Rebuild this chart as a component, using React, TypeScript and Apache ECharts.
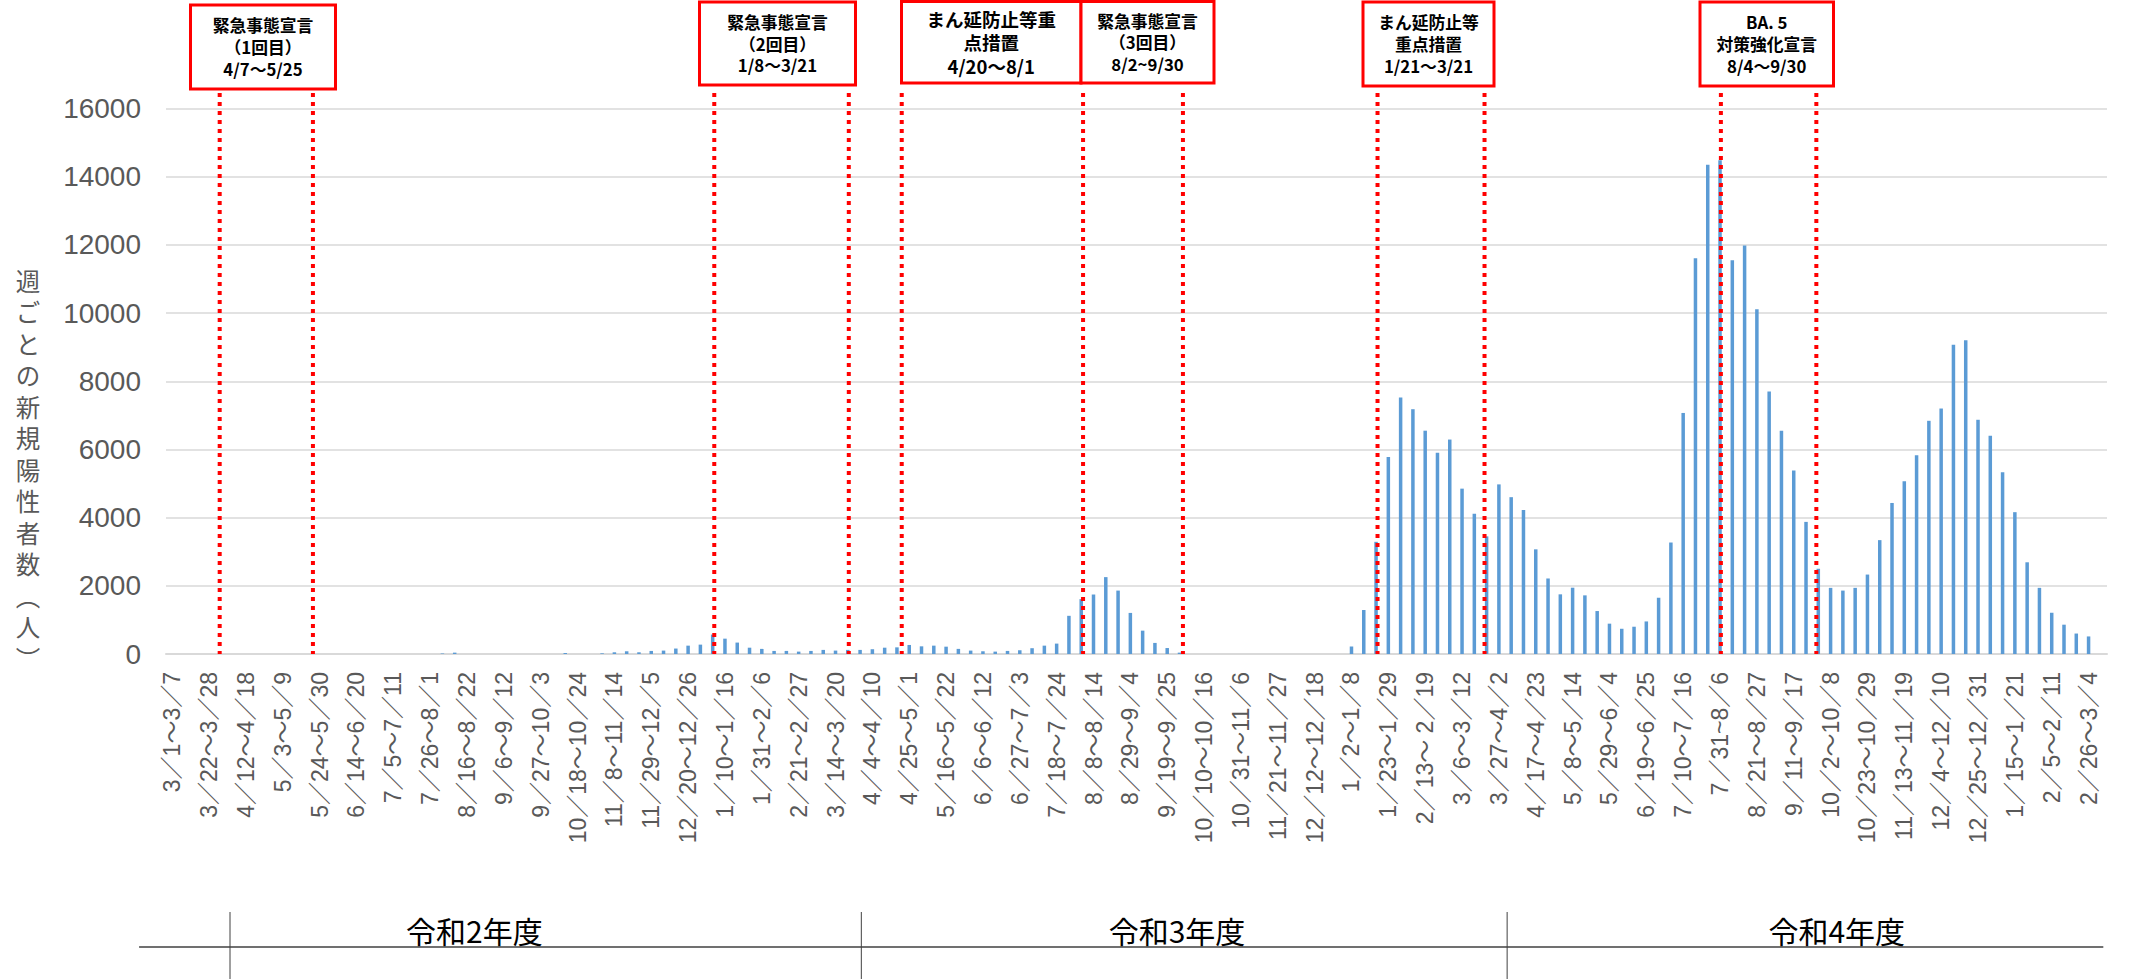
import React, { useEffect, useRef } from "react";
import * as echarts from "echarts";

// ---- data ----
const WEEK_COUNT = 158; // weekly categories starting Sun 2020-03-01 (last one is empty)

const tickLabels = [
  "3／1～3／7", "3／22～3／28", "4／12～4／18", "5／3～5／9", "5／24～5／30", "6／14～6／20",
  "7／5～7／11", "7／26～8／1", "8／16～8／22", "9／6～9／12", "9／27～10／3", "10／18～10／24",
  "11／8～11／14", "11／29～12／5", "12／20～12／26", "1／10～1／16", "1／31～2／6", "2／21～2／27",
  "3／14～3／20", "4／4～4／10", "4／25～5／1", "5／16～5／22", "6／6～6／12", "6／27～7／3",
  "7／18～7／24", "8／8～8／14", "8／29～9／4", "9／19～9／25", "10／10～10／16", "10／31～11／6",
  "11／21～11／27", "12／12～12／18", "1／2～1／8", "1／23～1／29", "2／13～ 2／19", "3／6～3／12",
  "3／27～4／2", "4／17～4／23", "5／8～5／14", "5／29～6／4", "6／19～6／25", "7／10～7／16",
  "7／31~8／6", "8／21～8／27", "9／11～9／17", "10／2～10／8", "10／23～10／29", "11／13～11／19",
  "12／4～12／10", "12／25～12／31", "1／15～1／21", "2／5～2／11", "2／26～3／4",
];

const weeklyCases: (number | null)[] = [
  0, 0, 0, 0, 0, 0, 0, 0, 0, 0,
  0, 0, 0, 0, 0, 0, 0, 0, 0, 0,
  0, 0, 15, 40, 0, 0, 0, 0, 0, 0,
  0, 0, 30, 0, 0, 20, 50, 80, 50, 90,
  100, 160, 245, 275, 570, 450, 335, 185, 150, 90,
  90, 70, 90, 120, 100, 120, 120, 140, 185, 195,
  265, 225, 245, 215, 150, 100, 80, 70, 90, 110,
  170, 245, 305, 1120, 1610, 1745, 2255, 1860, 1205, 685,
  325, 175, 40, 0, 0, 0, 0, 0, 0, 0,
  0, 0, 0, 0, 0, 0, 220, 1290, 3290, 5780,
  7520, 7180, 6550, 5900, 6290, 4850, 4110, 3450, 4975, 4600,
  4220, 3070, 2215, 1750, 1945, 1720, 1260, 890, 740, 800,
  955, 1650, 3270, 7070, 11610, 14350, 14480, 11550, 11980, 10110,
  7700, 6550, 5380, 3875, 2500, 1940, 1860, 1940, 2330, 3340,
  4430, 5070, 5830, 6840, 7200, 9070, 9200, 6870, 6400, 5330,
  4160, 2690, 1940, 1210, 860, 600, 515, null,
];

// category names: week ranges
const categories: string[] = [];
for (let i = 0; i < WEEK_COUNT; i++) {
  const s = new Date(2020, 2, 1 + i * 7);
  const e = new Date(2020, 2, 7 + i * 7);
  categories.push(`${s.getMonth() + 1}／${s.getDate()}～${e.getMonth() + 1}／${e.getDate()}`);
}

// annotation dotted lines (fractional week index)
const periodLines = [3.87, 11.46, 44.13, 55.08, 59.39, 74.15, 82.28, 98.12, 106.83, 126.07, 133.84];

const boxes = [
  { lines: ["緊急事態宣言", "（1回目）", "4/7～5/25"], x: 190.5, y: 5, w: 145, h: 84, size: 16.8, lh: 21.7 },
  { lines: ["緊急事態宣言", "（2回目）", "1/8～3/21"], x: 699.5, y: 2, w: 156, h: 83, size: 16.8, lh: 21.7 },
  { lines: ["まん延防止等重", "点措置", "4/20～8/1"], x: 901.5, y: 1.5, w: 179.5, h: 81.5, size: 18.5, lh: 23.6 },
  { lines: ["緊急事態宣言", "（3回目）", "8/2~9/30"], x: 1081, y: 1.5, w: 133, h: 81.5, size: 16.8, lh: 21.4 },
  { lines: ["まん延防止等", "重点措置", "1/21～3/21"], x: 1363, y: 2, w: 131, h: 84, size: 16.8, lh: 21.6 },
  { lines: ["BA. 5", "対策強化宣言", "8/4～9/30"], x: 1700, y: 2, w: 133.5, h: 84, size: 16.8, lh: 21.6 },
];

const fiscalYears = ["令和2年度", "令和3年度", "令和4年度"];
const fiscalLabelPos = [24.6, 81.8, 135.5];
const fiscalBoundaries = [4.71, 56.1, 108.67];
const bracketSpan = [-2.69, 157.2];

const yTitle = "週ごとの新規陽性者数︵人︶";

const CJK = "'Noto Sans CJK JP', 'Noto Sans', sans-serif";

export default function App() {
  const ref = useRef<HTMLDivElement>(null);

  useEffect(() => {
    const chart = echarts.init(ref.current!, null, { renderer: "svg" });
    chart.setOption({
      animation: false,
      grid: { left: 166, right: 27, top: 108.5, bottom: 325 },
      xAxis: [
        {
          type: "category",
          data: categories,
          boundaryGap: true,
          axisLine: { lineStyle: { color: "#D9D9D9", width: 2 } },
          axisTick: { show: false },
          axisLabel: {
            interval: 2,
            rotate: 90,
            margin: 18,
            color: "#595959",
            fontSize: 23,
            fontFamily: "'Liberation Sans', 'Noto Sans CJK JP', sans-serif",
            formatter: (_v: string, i: number) => tickLabels[i / 3] ?? "",
          },
          splitLine: { show: false },
        },
        { type: "value", min: -0.5, max: WEEK_COUNT - 0.5, show: false },
      ],
      yAxis: {
        type: "value",
        min: 0,
        max: 16000,
        interval: 2000,
        axisLine: { show: false },
        axisTick: { show: false },
        splitLine: { lineStyle: { color: "#D9D9D9", width: 1.5 } },
        axisLabel: {
          margin: 25,
          color: "#595959",
          fontSize: 28,
          fontFamily: "'Liberation Sans Narrow', 'Liberation Sans', sans-serif",
          formatter: (v: number) => String(v),
        },
      },
      series: [
        {
          type: "bar",
          xAxisIndex: 0,
          data: weeklyCases,
          barWidth: 3.5,
          itemStyle: { color: "#5B9BD5" },
        },
      ],
    });

    const px = (v: number) => chart.convertToPixel({ xAxisIndex: 1 }, v) as number;
    const y0 = chart.convertToPixel({ yAxisIndex: 0 }, 0) as number;

    const graphics: any[] = [];
    periodLines.forEach((v) => {
      const x = px(v);
      graphics.push({
        type: "line",
        z: 10,
        shape: { x1: x, y1: 93, x2: x, y2: y0 },
        style: { stroke: "#FF0000", lineWidth: 4, lineDash: [4, 5] },
      });
    });
    boxes.forEach((b) => {
      graphics.push({
        type: "rect",
        z: 11,
        shape: { x: b.x, y: b.y, width: b.w, height: b.h },
        style: { fill: "#FFFFFF", stroke: "#FF0000", lineWidth: 3 },
      });
      const cy = b.y + b.h / 2;
      b.lines.forEach((t, k) => {
        graphics.push({
          type: "text",
          z: 12,
          style: {
            text: t,
            x: b.x + b.w / 2,
            y: cy + (k - 1) * b.lh,
            align: "center",
            verticalAlign: "middle",
            textAlign: "center",
            textVerticalAlign: "middle",
            fontSize: b.size,
            fontWeight: "bold",
            fontFamily: CJK,
            fill: "#000000",
          },
        });
      });
    });
    // y axis title (vertical writing, one glyph per row)
    const chars = Array.from(yTitle);
    const pitch = 31.5;
    chars.forEach((c, k) => {
      graphics.push({
        type: "text",
        z: 10,
        style: {
          text: c,
          x: 28,
          y: 469 + (k - (chars.length - 1) / 2) * pitch,
          align: "center",
          verticalAlign: "middle",
          textAlign: "center",
          textVerticalAlign: "middle",
          fontSize: 24.5,
          fontFamily: CJK,
          fill: "#595959",
        },
      });
    });
    // fiscal year bracket
    graphics.push({
      type: "line",
      z: 10,
      shape: { x1: px(bracketSpan[0]), y1: 947, x2: px(bracketSpan[1]), y2: 947 },
      style: { stroke: "#404040", lineWidth: 1.5 },
    });
    fiscalBoundaries.forEach((v) => {
      const x = px(v);
      graphics.push({
        type: "line",
        z: 10,
        shape: { x1: x, y1: 912, x2: x, y2: 979 },
        style: { stroke: "#404040", lineWidth: 1 },
      });
    });
    fiscalYears.forEach((t, i) => {
      graphics.push({
        type: "text",
        z: 10,
        style: {
          text: t,
          x: px(fiscalLabelPos[i]),
          y: 930,
          align: "center",
          verticalAlign: "middle",
          textAlign: "center",
          textVerticalAlign: "middle",
          fontSize: 30,
          fontFamily: CJK,
          fill: "#000000",
        },
      });
    });
    chart.setOption({ graphic: graphics });

    return () => chart.dispose();
  }, []);

  return (
    <div
      ref={ref}
      style={{ position: "absolute", left: 0, top: 0, width: 2134, height: 979, background: "#FFFFFF" }}
    />
  );
}
